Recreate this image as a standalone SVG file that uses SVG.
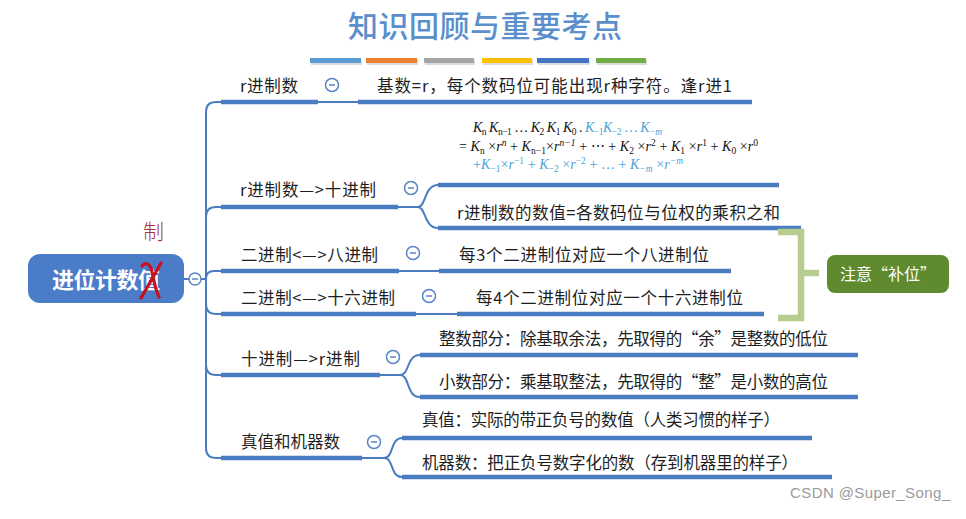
<svg xmlns="http://www.w3.org/2000/svg" width="966" height="519" viewBox="0 0 966 519">
<defs>
<style>
.t{font-family:"Noto Sans CJK SC","Noto Sans",sans-serif;font-size:16.5px;fill:#1e1e1e}
.ul{stroke:#4a7cc2;stroke-width:4.5;fill:none}
.cn{fill:none;stroke:#4a7cc2;stroke-width:2}
.cc{fill:#fff;stroke:#5a86c6;stroke-width:1.5}
.cm{stroke:#5a86c6;stroke-width:1.5}
.fm{font-family:"Liberation Serif",serif;font-size:14px;fill:#111}
.fb{fill:#4aa3d8}
.i{font-style:italic}
.sb{font-size:9.5px}
</style>
</defs>
<rect width="966" height="519" fill="#ffffff"/>

<g id="title">
<text x="485" y="37" text-anchor="middle" font-family="'Noto Sans CJK SC',sans-serif" font-size="30" font-weight="500" fill="#5a8fcb" textLength="274">知识回顾与重要考点</text>
<g opacity="0.25" fill="#777"><rect x="311" y="60" width="51" height="5"/><rect x="367" y="60" width="51" height="5"/><rect x="425" y="60" width="50" height="5"/><rect x="483" y="60" width="50" height="5"/><rect x="538" y="60" width="52" height="5"/><rect x="597" y="60" width="50" height="5"/></g>
<rect x="310" y="58" width="51" height="5" fill="#5b9bd5"/>
<rect x="366" y="58" width="51" height="5" fill="#ed7d31"/>
<rect x="424" y="58" width="50" height="5" fill="#a5a5a5"/>
<rect x="482" y="58" width="50" height="5" fill="#ffc000"/>
<rect x="537" y="58" width="52" height="5" fill="#4472c4"/>
<rect x="596" y="58" width="50" height="5" fill="#70ad47"/>
</g>

<g id="connectors">
<path class="cn" d="M184 279 H189 M201 279 H206"/>
<path class="cn" d="M206 279 V112 Q206 102 216 102 H221"/>
<path class="cn" d="M206 279 V217 Q206 207 216 207 H221"/>
<path class="cn" d="M206 279 Q206 271 214 271 H221"/>
<path class="cn" d="M206 279 V304 Q206 314 216 314 H221"/>
<path class="cn" d="M206 279 V365 Q206 375 216 375 H221"/>
<path class="cn" d="M206 279 V448 Q206 458 216 458 H221"/>
<path class="cn" d="M318 102 H358"/>
<path class="cn" d="M398 207 H418 C426 207 424 185 438 185 M418 207 C426 207 424 228 438 228"/>
<path class="cn" d="M399 271 H439"/>
<path class="cn" d="M416 314 H457"/>
<path class="cn" d="M380 375 H400 C410 375 406 355 420 355 M400 375 C410 375 406 397 420 397"/>
<path class="cn" d="M362 458 H384 C394 458 390 438 402 438 M384 458 C394 458 390 477 402 477"/>
</g>

<g id="root">
<rect x="28" y="254" width="156" height="49" rx="12" fill="#4a7cc8"/>
<text x="52" y="288" font-family="'Noto Sans CJK SC',sans-serif" font-size="22" font-weight="bold" fill="#fff" textLength="108">进位计数值</text>
<path d="M142 266 C146 261 151 265 152 272 C154 282 156 291 159 297" fill="none" stroke="#c8101e" stroke-width="3.2" stroke-linecap="round"/>
<path d="M161 263 C156 272 148 286 141 298" fill="none" stroke="#c8101e" stroke-width="3.2" stroke-linecap="round"/>
<text x="143" y="239" font-family="'Noto Sans CJK SC',serif" font-size="21" font-weight="300" fill="#a8343c">制</text>
<circle class="cc" cx="195" cy="279" r="6"/><path class="cm" d="M192 279 H198"/>
</g>

<g id="b1">
<text class="t" x="240" y="92" textLength="58">r进制数</text>
<path class="ul" d="M221 102 H318"/>
<circle class="cc" cx="332" cy="85" r="6.5"/><path class="cm" d="M329 85 H335"/>
</g>
<g id="b1c1">
<text class="t" x="377" y="92" textLength="355">基数=r，每个数码位可能出现r种字符。逢r进1</text>
<path class="ul" d="M358 102 H752"/>
</g>

<g id="b2">
<text class="t" x="240" y="196" textLength="136">r进制数—&gt;十进制</text>
<path class="ul" d="M221 207 H398"/>
<circle class="cc" cx="411" cy="188" r="6.5"/><path class="cm" d="M408 188 H414"/>
</g>
<g id="b2c1">
<text class="fm" x="473" y="132" textLength="189"><tspan class="i">K</tspan><tspan class="sb" dy="3">n</tspan><tspan dy="-3"> </tspan><tspan class="i">K</tspan><tspan class="sb" dy="3">n−1</tspan><tspan dy="-3">  …  </tspan><tspan class="i">K</tspan><tspan class="sb" dy="3">2</tspan><tspan dy="-3"> </tspan><tspan class="i">K</tspan><tspan class="sb" dy="3">1</tspan><tspan dy="-3"> </tspan><tspan class="i">K</tspan><tspan class="sb" dy="3">0</tspan><tspan dy="-3"> . </tspan><tspan class="i fb">K</tspan><tspan class="sb fb" dy="3">−1</tspan><tspan class="i fb" dy="-3">K</tspan><tspan class="sb fb" dy="3">−2</tspan><tspan class="fb" dy="-3"> … </tspan><tspan class="i fb">K</tspan><tspan class="sb i fb" dy="3">−m</tspan></text>
<text class="fm" x="459" y="151" textLength="299">= <tspan class="i">K</tspan><tspan class="sb" dy="3">n</tspan><tspan dy="-3"> ×</tspan><tspan class="i">r</tspan><tspan class="sb i" dy="-5">n</tspan><tspan dy="5"> +  </tspan><tspan class="i">K</tspan><tspan class="sb" dy="3">n−1</tspan><tspan dy="-3">×</tspan><tspan class="i">r</tspan><tspan class="sb i" dy="-5">n−1</tspan><tspan dy="5"> + ⋯ + </tspan><tspan class="i">K</tspan><tspan class="sb" dy="3">2</tspan><tspan dy="-3"> ×</tspan><tspan class="i">r</tspan><tspan class="sb" dy="-5">2</tspan><tspan dy="5"> +  </tspan><tspan class="i">K</tspan><tspan class="sb" dy="3">1</tspan><tspan dy="-3"> ×</tspan><tspan class="i">r</tspan><tspan class="sb" dy="-5">1</tspan><tspan dy="5"> + </tspan><tspan class="i">K</tspan><tspan class="sb" dy="3">0</tspan><tspan dy="-3"> ×</tspan><tspan class="i">r</tspan><tspan class="sb" dy="-5">0</tspan></text>
<text class="fm fb" x="473" y="169" textLength="210">+<tspan class="i">K</tspan><tspan class="sb" dy="3">−1</tspan><tspan dy="-3">×</tspan><tspan class="i">r</tspan><tspan class="sb" dy="-5">−1</tspan><tspan dy="5"> + </tspan><tspan class="i">K</tspan><tspan class="sb" dy="3">−2</tspan><tspan dy="-3"> ×</tspan><tspan class="i">r</tspan><tspan class="sb" dy="-5">−2</tspan><tspan dy="5"> +  … + </tspan><tspan class="i">K</tspan><tspan class="sb i" dy="3">−m</tspan><tspan dy="-3"> ×</tspan><tspan class="i">r</tspan><tspan class="sb i" dy="-5">−m</tspan></text>
<path class="ul" d="M438 185 H779"/>
</g>
<g id="b2c2">
<text class="t" x="457" y="219" textLength="323">r进制数的数值=各数码位与位权的乘积之和</text>
<path class="ul" d="M438 228 H801"/>
</g>

<g id="b3">
<text class="t" x="241" y="261" textLength="137">二进制&lt;—&gt;八进制</text>
<path class="ul" d="M221 271 H399"/>
<circle class="cc" cx="413" cy="253" r="6.5"/><path class="cm" d="M410 253 H416"/>
</g>
<g id="b3c1">
<text class="t" x="459" y="261" textLength="250">每3个二进制位对应一个八进制位</text>
<path class="ul" d="M439 271 H731"/>
</g>

<g id="b4">
<text class="t" x="241" y="304" textLength="154">二进制&lt;—&gt;十六进制</text>
<path class="ul" d="M221 314 H416"/>
<circle class="cc" cx="429" cy="296" r="6.5"/><path class="cm" d="M426 296 H432"/>
</g>
<g id="b4c1">
<text class="t" x="476" y="304" textLength="267">每4个二进制位对应一个十六进制位</text>
<path class="ul" d="M457 314 H764"/>
</g>

<g id="bracket">
<path d="M778 232 H801 V318 H778 M801 273 H819" fill="none" stroke="#b7cd8f" stroke-width="6.5"/>
</g>
<g id="note">
<rect x="827" y="255" width="122" height="38" rx="8" fill="#5f8a2e"/>
<text x="888" y="280" text-anchor="middle" font-family="'Noto Sans CJK SC',sans-serif" font-size="16" fill="#fff">注意“补位”</text>
</g>

<g id="b5">
<text class="t" x="241" y="365" textLength="119">十进制—&gt;r进制</text>
<path class="ul" d="M221 375 H380"/>
<circle class="cc" cx="393" cy="357" r="6.5"/><path class="cm" d="M390 357 H396"/>
</g>
<g id="b5c1">
<text class="t" x="439" y="345" textLength="389">整数部分：除基取余法，先取得的“余”是整数的低位</text>
<path class="ul" d="M420 355 H858"/>
</g>
<g id="b5c2">
<text class="t" x="439" y="388" textLength="389">小数部分：乘基取整法，先取得的“整”是小数的高位</text>
<path class="ul" d="M420 397 H858"/>
</g>

<g id="b6">
<text class="t" x="241" y="448" textLength="99">真值和机器数</text>
<path class="ul" d="M221 458 H362"/>
<circle class="cc" cx="374" cy="442" r="6.5"/><path class="cm" d="M371 442 H377"/>
</g>
<g id="b6c1">
<text class="t" x="422" y="426" textLength="358">真值：实际的带正负号的数值（人类习惯的样子）</text>
<path class="ul" d="M402 438 H812"/>
</g>
<g id="b6c2">
<text class="t" x="422" y="469" textLength="376">机器数：把正负号数字化的数（存到机器里的样子）</text>
<path class="ul" d="M402 477 H832"/>
</g>

<text x="790" y="498" font-family="'Liberation Sans',sans-serif" font-size="15" fill="#9a9a9a" textLength="160">CSDN @Super_Song_</text>
</svg>
